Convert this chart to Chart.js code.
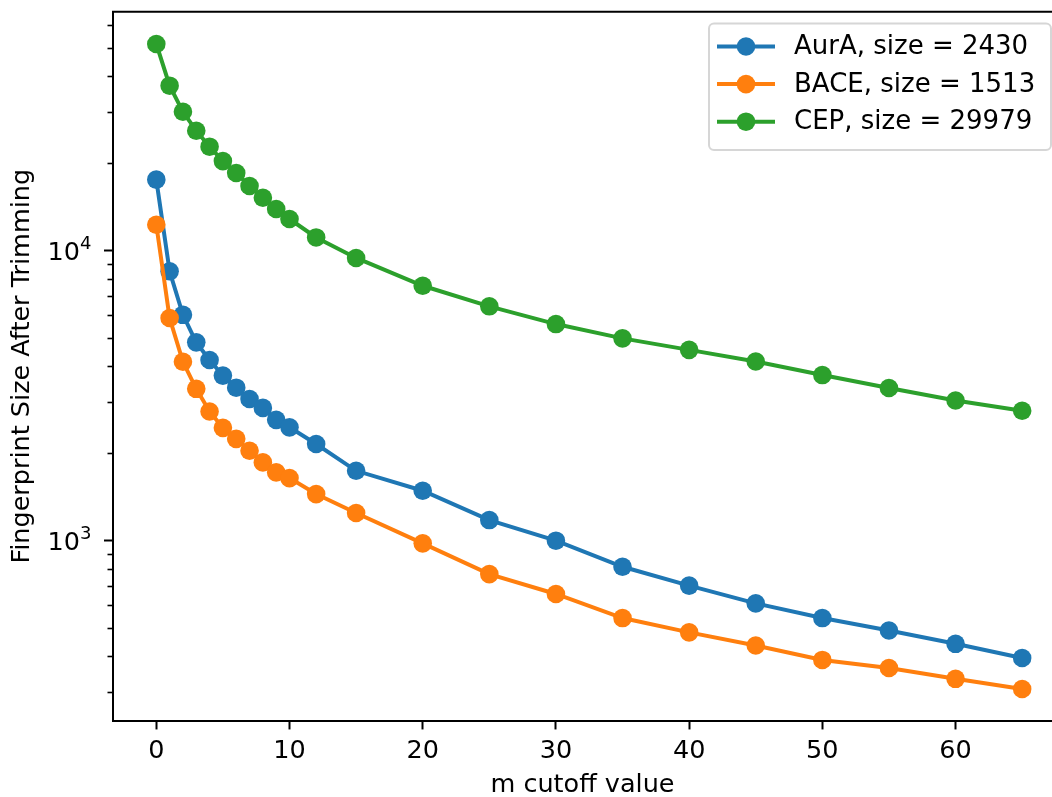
<!DOCTYPE html>
<html>
<head>
<meta charset="utf-8">
<script src="https://cdn.jsdelivr.net/npm/chart.js@4/dist/chart.umd.min.js"></script>
<style>
  html, body { margin: 0; padding: 0; background: #fff; overflow: hidden; }
  #wrap { width: 1052px; height: 797px; }
</style>
</head>
<body>
<div id="wrap"><canvas id="c" width="1052" height="797"></canvas></div>
<script>
// m cutoff values on the x axis
const cutoffs = [0, 1, 2, 3, 4, 5, 6, 7, 8, 9, 10, 12, 15, 20, 25, 30, 35, 40, 45, 50, 55, 60, 65];

// fingerprint size after trimming, one array per target
const aurA = [17580, 8490, 6010, 4830, 4200, 3710, 3370, 3080, 2870, 2610, 2460, 2155, 1742,
              1487, 1178, 1000, 813, 700, 608, 541, 490, 441, 394];
const bace = [12290, 5860, 4140, 3340, 2790, 2450, 2245, 2043, 1862, 1720, 1644, 1448, 1246,
              979, 767, 655, 541, 483, 435, 388, 364, 334, 308];
const cep  = [51620, 37070, 30130, 25920, 22840, 20370, 18530, 16710, 15230, 13930, 12860, 11110, 9440,
              7570, 6430, 5585, 4985, 4550, 4150, 3725, 3362, 3043, 2807];

const seriesNames = ['AurA, size = 2430', 'BACE, size = 1513', 'CEP, size = 29979'];
const seriesColors = ['#1f77b4', '#ff7f0e', '#2ca02c'];

// axis ticks and limits (the x range runs past the right edge of the figure)
const xTicks = [0, 10, 20, 30, 40, 50, 60];
const xLimits = [-3.25, 67.24];
const yMajor = [1000, 10000];
const yMinor = [300, 400, 500, 600, 700, 800, 900,
                2000, 3000, 4000, 5000, 6000, 7000, 8000, 9000,
                20000, 30000, 40000, 50000, 60000];
const yLimits = [239.5, 66700];

const FONT = 'DejaVu Sans';
const FS = 25.5;
const LEGEND_FS = 26;

// top spine, minor ticks, power-of-ten labels and legend box
const decorations = {
  id: 'decorations',
  afterDraw(chart) {
    const ctx = chart.ctx;
    const a = chart.chartArea;
    const ys = chart.scales.y;
    ctx.save();
    // minor ticks on the log axis
    ctx.strokeStyle = '#000';
    ctx.lineWidth = 1.6;
    yMinor.forEach(v => {
      const py = Math.round(ys.getPixelForValue(v)) + 0.5;
      ctx.beginPath();
      ctx.moveTo(a.left - 5.5, py);
      ctx.lineTo(a.left, py);
      ctx.stroke();
    });
    // 10^n labels with a raised exponent
    ctx.fillStyle = '#000';
    ctx.textBaseline = 'alphabetic';
    ctx.textAlign = 'left';
    yMajor.forEach(v => {
      const py = ys.getPixelForValue(v);
      const exp = String(Math.round(Math.log10(v)));
      ctx.font = '18px "' + FONT + '"';
      const ew = ctx.measureText(exp).width;
      ctx.font = FS + 'px "' + FONT + '"';
      const bw = ctx.measureText('10').width;
      const right = a.left - 21.5;
      ctx.fillText('10', right - ew - bw, py + 9.3);
      ctx.font = '18px "' + FONT + '"';
      ctx.fillText(exp, right - ew, py - 1.4);
    });
    // top spine
    ctx.lineWidth = 2;
    ctx.beginPath();
    ctx.moveTo(a.left - 1, a.top);
    ctx.lineTo(a.right, a.top);
    ctx.stroke();

    // legend
    const lx = 709, ly = 23.5, lw = 342, lh = 126.5;
    ctx.beginPath();
    ctx.roundRect(lx, ly, lw, lh, 5);
    ctx.fillStyle = 'rgba(255,255,255,0.8)';
    ctx.fill();
    ctx.strokeStyle = '#d6d6d6';
    ctx.lineWidth = 2;
    ctx.stroke();
    ctx.font = LEGEND_FS + 'px "' + FONT + '"';
    ctx.textBaseline = 'middle';
    ctx.textAlign = 'left';
    chart.data.datasets.forEach((ds, i) => {
      const cy = 46.5 + i * 37.6;
      ctx.strokeStyle = ds.borderColor;
      ctx.lineWidth = 4;
      ctx.beginPath();
      ctx.moveTo(717, cy);
      ctx.lineTo(775, cy);
      ctx.stroke();
      ctx.fillStyle = ds.backgroundColor;
      ctx.beginPath();
      ctx.arc(746, cy, 9.3, 0, Math.PI * 2);
      ctx.fill();
      ctx.fillStyle = '#000';
      ctx.fillText(ds.label, 794, cy + 1);
    });
    ctx.restore();
  }
};

const seriesValues = [aurA, bace, cep];
const datasets = seriesValues.map((vals, i) => ({
  label: seriesNames[i],
  data: cutoffs.map((x, j) => ({ x: x, y: vals[j] })),
  borderColor: seriesColors[i],
  backgroundColor: seriesColors[i],
  pointBackgroundColor: seriesColors[i],
  pointBorderWidth: 0,
  pointRadius: 9.3,
  borderWidth: 4,
  tension: 0,
  clip: false,
  order: 3 - i
}));

new Chart(document.getElementById('c'), {
  type: 'line',
  data: { datasets },
  plugins: [decorations],
  options: {
    responsive: false,
    animation: false,
    devicePixelRatio: 1,
    layout: { autoPadding: false, padding: { top: 11.7, left: 0, right: 0, bottom: 0 } },
    plugins: { legend: { display: false }, tooltip: { enabled: false } },
    scales: {
      x: {
        type: 'linear',
        min: xLimits[0],
        max: xLimits[1],
        afterBuildTicks: s => { s.ticks = xTicks.map(v => ({ value: v })); },
        afterFit: s => { s.height = 76.3; s.paddingLeft = 0; s.paddingRight = 0; },
        grid: { display: true, drawOnChartArea: false, drawTicks: true, tickLength: 8.75, tickWidth: 2, tickColor: '#000' },
        border: { display: true, color: '#000', width: 2 },
        ticks: { color: '#000', font: { family: FONT, size: FS }, padding: 7, maxRotation: 0, autoSkip: false },
        title: { display: true, text: 'm cutoff value', color: '#000', font: { family: FONT, size: FS }, padding: { top: 0, bottom: -4 } }
      },
      y: {
        type: 'logarithmic',
        min: yLimits[0],
        max: yLimits[1],
        afterBuildTicks: s => {
          s.ticks = yMajor.concat(yMinor).sort((p, q) => p - q).map(v => ({ value: v }));
        },
        afterFit: s => { s.width = 113; s.paddingTop = 0; s.paddingBottom = 0; },
        grid: {
          display: true, drawOnChartArea: false, drawTicks: true, tickLength: 9, tickWidth: 2,
          tickColor: c => (c.tick && yMajor.includes(c.tick.value)) ? '#000' : 'rgba(0,0,0,0)'
        },
        border: { display: true, color: '#000', width: 2 },
        ticks: { display: true, color: 'rgba(0,0,0,0)', font: { family: FONT, size: FS }, padding: 10, autoSkip: false,
                 callback: () => '' },
        title: { display: true, text: 'Fingerprint Size After Trimming', color: '#000', font: { family: FONT, size: FS }, padding: { top: 7, bottom: 0 } }
      }
    }
  }
});
</script>
</body>
</html>
